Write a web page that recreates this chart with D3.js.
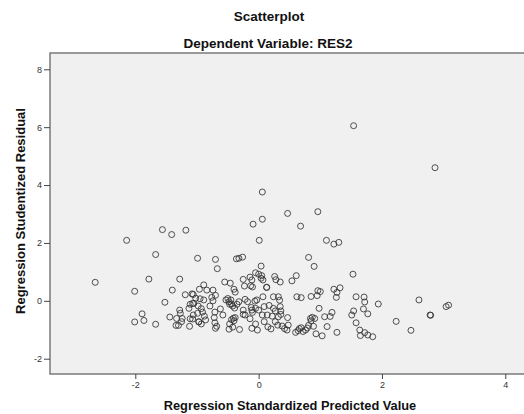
<!DOCTYPE html>
<html><head><meta charset="utf-8">
<script src="https://cdn.jsdelivr.net/npm/d3@7"></script>
<style>body{margin:0;background:#fff}svg{display:block}</style>
</head><body>
<script>
const title = "Scatterplot";
const subtitle = "Dependent Variable: RES2";
const xTitle = "Regression Standardized Predicted Value";
const yTitle = "Regression Studentized Residual";
const xTicks = [-2, 0, 2, 4];
const yTicks = [-2, 0, 2, 4, 6, 8];

// standardized predicted values
const predicted = [
 -2.65,-2.14,-1.56,-1.41,-1.18,-1.67,-1.78,-1.28,-2.01,-1.40,-1.19,-1.08,-1.52,-1.11,-1.07,-1.02,-1.13,-1.89,-2.01,-1.86,-1.67,-1.44,-1.33,-1.28,-1.27,-1.24,-1.25,-1.34,-1.30,-1.07,-1.12,-0.99,-0.97,
 -0.09,0.06,0.47,0.96,0.68,0.01,1.10,1.22,1.30,-0.99,-0.70,-0.67,-0.36,-0.32,-0.26,0.04,0.81,0.90,1.53,
 0.06,1.54,2.86,
 -0.05,0.00,0.05,0.04,0.07,-0.14,-0.11,-0.25,-0.55,-0.46,-0.23,-0.10,0.13,0.26,0.28,0.35,0.54,0.61,
 -0.89,-0.96,-0.84,-0.74,-1.06,-0.40,-0.38,-0.70,-0.76,-0.74,-0.95,-0.89,-0.03,0.07,0.24,0.32,0.62,0.69,0.85,0.95,0.96,1.00,1.22,1.32,1.27,1.26,1.58,
 -0.53,-0.45,-0.32,-0.22,-0.18,-0.06,-1.05,-0.98,-0.93,-0.91,-0.88,-0.79,-0.71,-0.62,-0.58,-0.48,-0.44,-0.42,-0.39,-0.35,-0.25,-0.22,-0.12,-0.11,-0.05,0.00,0.09,0.17,0.24,0.27,0.35,0.36,0.14,0.22,0.32,0.36,0.47,
 -1.11,-1.06,-0.97,-0.93,-0.86,-0.72,-0.71,-0.68,-0.70,-0.47,-0.48,-0.42,-0.38,-0.44,-0.40,-0.31,-0.25,-0.14,-0.11,-0.05,-0.02,0.06,0.09,0.20,0.27,0.31,0.38,0.42,0.46,0.48,
 0.60,0.64,0.66,0.69,0.72,0.76,0.79,0.81,0.84,0.87,0.91,0.85,0.89,0.98,1.07,1.16,1.19,1.11,0.93,1.03,1.27,1.51,1.54,1.58,1.64,
 1.71,1.72,1.94,2.60,3.04,3.08,2.78,2.79,1.70,1.77,1.65,1.72,1.77,1.85,2.23,2.47,
 -0.50,-0.47,-0.41,0.13,0.15,-0.10,-0.13,0.34
];
// studentized residuals
const residual = [
 0.64,2.09,2.46,2.29,2.44,1.60,0.75,0.75,0.33,0.37,0.21,0.24,-0.05,-0.12,-0.09,0.09,-0.26,-0.45,-0.73,-0.68,-0.81,-0.56,-0.61,-0.32,-0.43,-0.61,-0.72,-0.85,-0.85,-0.63,-0.88,-0.43,-0.73,
 2.65,2.82,3.02,3.08,2.58,2.09,2.09,1.96,2.02,1.47,1.43,1.11,1.45,1.47,1.51,1.20,1.50,1.19,0.92,
 3.76,6.05,4.60,
 0.97,0.92,0.87,0.78,0.72,0.82,0.72,0.74,0.65,0.61,0.51,0.48,0.46,0.84,0.73,0.65,0.69,0.87,
 0.55,0.40,0.37,0.37,0.22,0.40,0.30,0.19,0.12,0.00,0.07,0.03,0.03,0.14,0.14,0.14,0.14,0.11,0.15,0.18,0.35,0.32,0.40,0.45,0.29,0.12,0.14,
 0.03,0.03,-0.03,0.05,-0.03,-0.01,-0.09,-0.18,-0.27,-0.39,-0.53,-0.18,-0.39,-0.28,-0.49,-0.03,-0.11,-0.18,-0.25,-0.12,-0.32,-0.49,-0.23,-0.32,-0.26,-0.32,-0.20,-0.16,-0.26,-0.35,-0.20,-0.35,-0.49,-0.53,-0.55,-0.47,-0.58,
 -0.62,-0.49,-0.72,-0.80,-0.66,-0.58,-0.76,-0.88,-0.95,-0.80,-0.98,-0.91,-0.58,-0.65,-0.69,-0.99,-0.47,-0.62,-0.95,-0.80,-1.01,-0.49,-0.72,-0.97,-0.72,-0.84,-0.87,-0.96,-1.01,-0.84,
 -1.09,-1.03,-0.96,-0.93,-1.06,-1.01,-0.94,-0.85,-0.61,-0.57,-0.61,-0.69,-0.88,-0.26,-0.55,-0.54,-0.40,-0.89,-1.14,-1.21,-1.09,-0.49,-0.35,-0.76,-1.01,
 0.13,-0.04,-0.11,0.03,-0.20,-0.15,-0.49,-0.50,-0.28,-0.45,-1.20,-1.10,-1.18,-1.24,-0.71,-1.02,
 0.08,-0.12,-0.60,0.47,-0.90,-0.40,0.52,0.02
];

const W = 524, H = 414;
const plot = {left: 50, top: 53, right: 524, bottom: 374};
const svg = d3.select("body").append("svg").attr("width", W).attr("height", H)
  .style("font-family", "'Liberation Sans', Arial, sans-serif");

const x = d3.scaleLinear().domain([-2, 4]).range([135.3, 505.3]);
const y = d3.scaleLinear().domain([-2, 8]).range([358.7, 69.3]);

svg.append("rect").attr("x", plot.left).attr("y", plot.top)
  .attr("width", plot.right - plot.left).attr("height", plot.bottom - plot.top)
  .attr("fill", "#f0f0f0");

// frame lines
const frame = "#7a7a7a";
svg.append("path")
  .attr("d", `M${plot.right},${plot.top}H${plot.left}V${plot.bottom}H${plot.right}`)
  .attr("fill", "none").attr("stroke", frame).attr("stroke-width", 1.5);

const fmt = d => String(d);
// axes
const xAxis = svg.append("g").attr("transform", `translate(0,${plot.bottom})`)
  .call(d3.axisBottom(x).tickValues(xTicks).tickFormat(fmt).tickSize(5).tickSizeOuter(0).tickPadding(3));
const yAxis = svg.append("g").attr("transform", `translate(${plot.left},0)`)
  .call(d3.axisLeft(y).tickValues(yTicks).tickFormat(fmt).tickSize(6).tickSizeOuter(0).tickPadding(2));
[xAxis, yAxis].forEach(g => {
  g.select(".domain").remove();
  g.selectAll(".tick line").attr("stroke", "#444").attr("stroke-width", 1);
  g.selectAll(".tick text").attr("fill", "#333").style("font-size", "9px")
    .style("font-family", "'Liberation Sans', Arial, sans-serif");
});

// points
svg.append("g").selectAll("circle")
  .data(predicted.map((p, i) => [p, residual[i]]))
  .join("circle")
  .attr("cx", d => x(d[0])).attr("cy", d => y(d[1]))
  .attr("r", 3).attr("fill", "none").attr("stroke", "#333").attr("stroke-opacity", 0.85)
  .attr("stroke-width", 1);

// titles
svg.append("text").attr("x", 269).attr("y", 21).attr("text-anchor", "middle")
  .style("font-size", "13.5px").style("font-weight", "bold").attr("fill", "#111").text(title);
svg.append("text").attr("x", 268).attr("y", 47.5).attr("text-anchor", "middle")
  .style("font-size", "13.5px").style("font-weight", "bold").attr("fill", "#111").text(subtitle);
svg.append("text").attr("x", 290).attr("y", 410).attr("text-anchor", "middle")
  .style("font-size", "12.8px").style("font-weight", "bold").attr("fill", "#111").text(xTitle);
svg.append("text").attr("transform", "translate(24.5,211) rotate(-90)").attr("text-anchor", "middle")
  .style("font-size", "13px").style("font-weight", "bold").attr("fill", "#111").text(yTitle);
</script>
</body></html>
